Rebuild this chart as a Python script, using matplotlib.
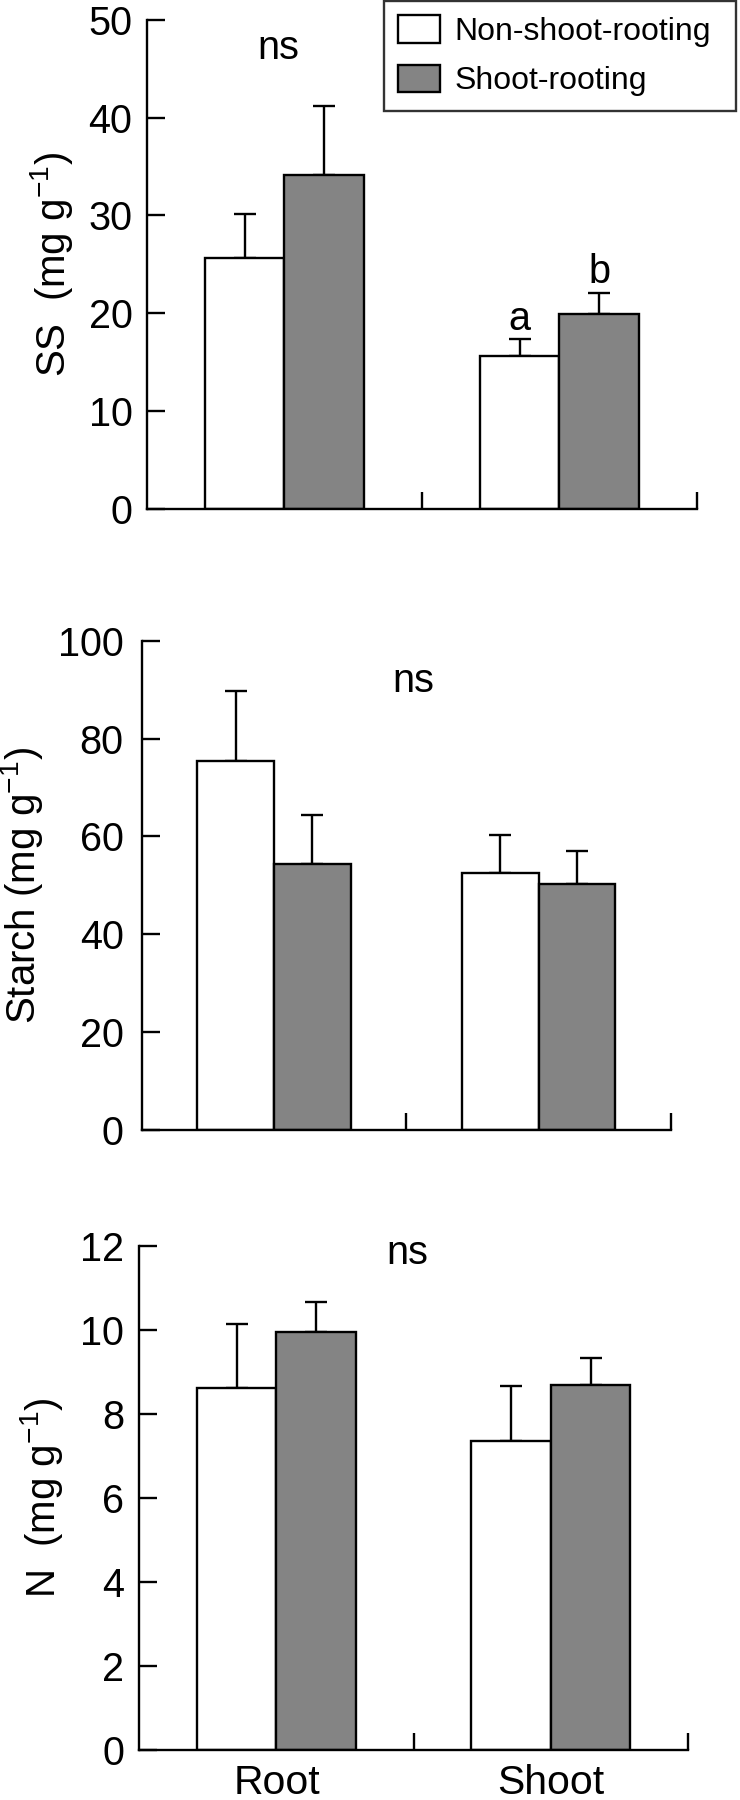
import numpy as np
import matplotlib
matplotlib.use('Agg')
import matplotlib.pyplot as plt

plt.rcParams['font.family'] = ['Liberation Sans', 'DejaVu Sans']
plt.rcParams['mathtext.fontset'] = 'custom'
plt.rcParams['mathtext.rm'] = 'Liberation Sans'
plt.rcParams['mathtext.it'] = 'Liberation Sans:italic'

# ── DATA ────────────────────────────────────────────────────
categories = ['Root', 'Shoot']
series_names = ['Non-shoot-rooting', 'Shoot-rooting']

ss_non = [25.6, 15.6]
ss_non_err = [4.5, 1.7]
ss_shoot = [34.1, 19.9]
ss_shoot_err = [7.1, 2.2]

starch_non = [75.5, 52.5]
starch_non_err = [14.2, 7.9]
starch_shoot = [54.3, 50.2]
starch_shoot_err = [10.0, 6.8]

n_non = [8.62, 7.35]
n_non_err = [1.51, 1.32]
n_shoot = [9.94, 8.68]
n_shoot_err = [0.73, 0.66]

ss_ticks = [0, 10, 20, 30, 40, 50]
starch_ticks = [0, 20, 40, 60, 80, 100]
n_ticks = [0, 2, 4, 6, 8, 10, 12]

# ── FIGURE ──────────────────────────────────────────────────
fig = plt.figure(figsize=(7.4, 18), dpi=100)

panels = [
    dict(rect=[0.1986, 0.7175, 0.7432, 0.2714], non=ss_non, non_err=ss_non_err,
         sh=ss_shoot, sh_err=ss_shoot_err, ticks=ss_ticks,
         ylabel=r'SS  (mg g$^{-1}$)', lab_x=-0.131, pad=10.5,
         ns=(0.476, 46.0)),
    dict(rect=[0.1915, 0.3722, 0.7153, 0.2718], non=starch_non, non_err=starch_non_err,
         sh=starch_shoot, sh_err=starch_shoot_err, ticks=starch_ticks,
         ylabel=r'Starch (mg g$^{-1}$)', lab_x=-0.183, pad=13,
         ns=(1.025, 89.5)),
    dict(rect=[0.1882, 0.0279, 0.7415, 0.2800], non=n_non, non_err=n_non_err,
         sh=n_shoot, sh_err=n_shoot_err, ticks=n_ticks,
         ylabel=r'N  (mg g$^{-1}$)', lab_x=-0.135, pad=11,
         ns=(0.976, 11.56)),
]

x = np.arange(len(categories)) + 0.5
w = 0.29
lw = 1.7
gray = '#848484'
fs = 28.5

axes = []
for p in panels:
    ax = fig.add_axes(p['rect'])
    axes.append(ax)
    ax.bar(x - w/2, p['non'], w, color='white', edgecolor='black',
           linewidth=lw, label=series_names[0], zorder=2)
    ax.bar(x + w/2, p['sh'], w, color=gray, edgecolor='black',
           linewidth=lw, label=series_names[1], zorder=2)
    zeros = np.zeros(len(categories))
    ax.errorbar(x - w/2, p['non'], yerr=[zeros, p['non_err']], fmt='none',
                ecolor='black', elinewidth=lw, capsize=7.8, capthick=lw, zorder=1)
    ax.errorbar(x + w/2, p['sh'], yerr=[zeros, p['sh_err']], fmt='none',
                ecolor='black', elinewidth=lw, capsize=7.8, capthick=lw, zorder=1)

    ax.set_xlim(0, 2)
    ax.set_ylim(p['ticks'][0], p['ticks'][-1])
    ax.set_yticks(p['ticks'])
    ax.set_xticks([1, 2])
    ax.set_xticklabels([])
    ax.set_xticks(x, minor=True)
    ax.tick_params(axis='x', which='minor', length=0, labelsize=29.5, pad=10)
    ax.tick_params(axis='x', which='major', direction='in', length=12.5, width=lw)
    ax.tick_params(axis='y', direction='in', length=13, width=lw,
                   labelsize=fs, pad=p['pad'])
    for s in ['top', 'right']:
        ax.spines[s].set_visible(False)
    for s in ['left', 'bottom']:
        ax.spines[s].set_linewidth(lw)

    ax.set_ylabel(p['ylabel'], fontsize=29)
    ax.yaxis.set_label_coords(p['lab_x'], 0.5)
    ax.text(p['ns'][0], p['ns'][1], 'ns', fontsize=fs, ha='center', va='baseline')

# category labels only on bottom panel
axes[0].set_xticklabels([], minor=True)
axes[1].set_xticklabels([], minor=True)
axes[2].set_xticklabels(categories, minor=True)

# significance letters on SS shoot bars
axes[0].text(x[1] - w/2, ss_non[1] + ss_non_err[1] + 1.0, 'a', fontsize=fs,
             ha='center', va='baseline')
axes[0].text(x[1] + w/2, ss_shoot[1] + ss_shoot_err[1] + 1.0, 'b', fontsize=fs,
             ha='center', va='baseline')

h, l = axes[0].get_legend_handles_labels()
leg = fig.legend(h, l, loc='upper left',
                 bbox_to_anchor=(384/740, 1 - 1/1800, (736 - 384)/740, 0),
                 mode='expand', fontsize=23, frameon=True, fancybox=False,
                 edgecolor='black', handlelength=1.3, handleheight=0.95,
                 handletextpad=0.45, labelspacing=0.55, borderpad=0.45,
                 borderaxespad=0)
leg.get_frame().set_linewidth(lw)

fig.savefig('out.png', dpi=100)
